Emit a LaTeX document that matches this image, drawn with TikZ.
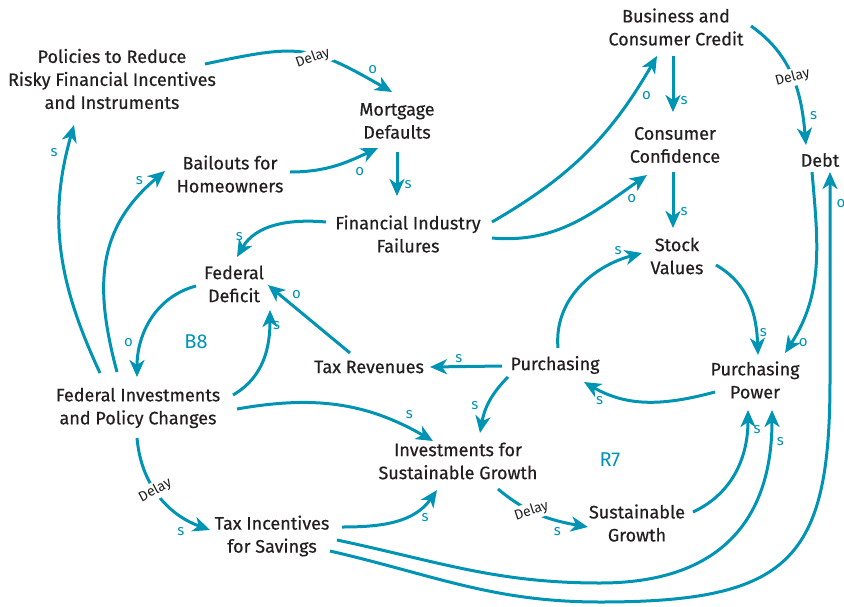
\documentclass[tikz,border=0pt]{standalone}
\usepackage{fontspec}
\setmainfont{Fira Sans}
\newfontfamily\varfont{Fira Sans}[FakeBold=0.5]
\usetikzlibrary{arrows.meta}
\definecolor{loopteal}{RGB}{0,148,180}
\definecolor{inkgray}{RGB}{35,31,32}

\begin{document}
\begin{tikzpicture}[x=1pt,y=1pt,
	var/.style={align=center,text=inkgray,font=\varfont\fontsize{18}{23}\selectfont,inner sep=2pt},
	link/.style={loopteal,line width=3pt,-{Stealth[length=17pt,width=15pt,inset=5pt]}},
	pol/.style={text=loopteal,font=\fontsize{15}{15}\selectfont,inner sep=2pt},
	delay/.style={fill=white,text=inkgray,font=\fontsize{14}{14}\selectfont,inner sep=2pt},
	looplabel/.style={text=loopteal,font=\fontsize{20}{20}\selectfont}]
	\useasboundingbox (0,0) rectangle (844,-606);
	
	% Variables
	\node[var] (pol) at (112,-79) {Policies to Reduce\\Risky Financial Incentives\\and Instruments};
	\node[var] (mort) at (397,-121) {Mortgage\\Defaults};
	\node[var] (bail) at (230,-174) {Bailouts for\\Homeowners};
	\node[var] (bcc) at (676,-27) {Business and\\Consumer Credit};
	\node[var] (conf) at (675,-145) {Consumer\\Confidence};
	\node[var] (debt) at (820,-160) {Debt};
	\node[var] (fif) at (408,-234) {Financial Industry\\Failures};
	\node[var] (stock) at (677,-256) {Stock\\Values};
	\node[var] (def) at (234,-284) {Federal\\Deficit};
	\node[var] (taxrev) at (369,-367) {Tax Revenues};
	\node[var] (purch) at (555,-365) {Purchasing};
	\node[var] (ppow) at (755,-380) {Purchasing\\Power};
	\node[var] (fedinv) at (138,-408) {Federal Investments\\and Policy Changes};
	\node[var] (isg) at (458,-461) {Investments for\\Sustainable Growth};
	\node[var] (taxinc) at (272,-536) {Tax Incentives\\for Savings};
	\node[var] (sg) at (637,-523) {Sustainable\\Growth};
	
	% Loop names
	\node[looplabel] (b8) at (196,-342) {B8};
	\node[looplabel] (r7) at (610,-460) {R7};
	
	% Links, top part
	\draw[link] ([shift={(93,15)}]pol.center) to[out=12,in=150,looseness=1.3] node[delay,rotate=20,pos=.56,below=-6pt]{Delay} node[pol,pos=.88,above right]{o} ([shift={(-5,29)}]mort.center);
	\draw[link] ([shift={(60,2)}]bail.center) to[out=0,in=205] node[pol,pos=.8,below=8pt]{o} ([shift={(-19,-27)}]mort.center);
	\draw[link] ([shift={(0,-31)}]mort.center) -- node[pol,pos=.75,right=4pt]{s} ([shift={(-11,38)}]fif.center);
	\draw[link] ([shift={(-82,12)}]fif.center) to[out=175,in=60] node[pol,pos=.85,above left]{s} ([shift={(3,27)}]def.center);
	\draw[link] ([shift={(84,12)}]fif.center) to[out=30,in=240] node[pol,pos=.82,right=6pt]{o} ([shift={(-19,-29)}]bcc.center);
	\draw[link] ([shift={(84,-4)}]fif.center) to[out=-5,in=215] node[pol,pos=.85,below right]{o} ([shift={(-28,-30)}]conf.center);
	\draw[link] ([shift={(-3,-29)}]bcc.center) -- node[pol,pos=.8,right=4pt]{s} ([shift={(-2,33)}]conf.center);
	\draw[link] ([shift={(75,1)}]bcc.center) to[out=-35,in=95] node[delay,rotate=15,pos=.5]{Delay} node[pol,pos=.8,right=4pt]{s} ([shift={(-14,15)}]debt.center);
	\draw[link] ([shift={(-2,-27)}]conf.center) -- node[pol,pos=.7,right=4pt]{s} ([shift={(-4,28)}]stock.center);
	\draw[link] ([shift={(-8,-12)}]debt.center) to[out=-85,in=57] node[pol,pos=.9,below right]{o} ([shift={(30,27)}]ppow.center);
	
	% Links, right loop
	\draw[link] ([shift={(39,-9)}]stock.center) to[out=-30,in=92] node[pol,pos=.8,right]{s} ([shift={(3,25)}]ppow.center);
	\draw[link] ([shift={(-40,-12)}]ppow.center) to[out=-165,in=-30] node[pol,pos=.88,below=3pt]{s} ([shift={(29,-17)}]purch.center);
	\draw[link] ([shift={(3,17)}]purch.center) to[out=95,in=195] node[pol,pos=.88,above left]{s} ([shift={(-35,3)}]stock.center);
	\draw[link] ([shift={(-53,-1)}]purch.center) -- node[pol,pos=.6,above]{s} ([shift={(61,0)}]taxrev.center);
	\draw[link] ([shift={(-47,-12)}]purch.center) to[out=-135,in=80] node[pol,pos=.55,left=6pt]{s} ([shift={(22,28)}]isg.center);
	
	% Links, left loop
	\draw[link] ([shift={(-19,14)}]taxrev.center) -- node[pol,pos=.75,above right]{o} ([shift={(34,-1)}]def.center);
	\draw[link] ([shift={(-38,-2)}]def.center) to[out=-165,in=90] node[pol,pos=.72,left=5pt]{o} ([shift={(-1,31)}]fedinv.center);
	\draw[link] ([shift={(95,13)}]fedinv.center) to[out=30,in=-90] node[pol,pos=.85,right]{s} ([shift={(36,-26)}]def.center);
	\draw[link] ([shift={(-38,35)}]fedinv.center) to[out=115,in=-106] node[pol,pos=.9,left=6pt]{s} ([shift={(-38,-46)}]pol.center);
	\draw[link] ([shift={(-21,36)}]fedinv.center) to[out=105,in=-140,looseness=1.1] node[pol,pos=.9,above left]{s} ([shift={(-65,3)}]bail.center);
	\draw[link] ([shift={(99,-1)}]fedinv.center) to[out=10,in=150] node[pol,pos=.88,above=6pt]{s} ([shift={(-25,20)}]isg.center);
	\draw[link] ([shift={(-1,-30)}]fedinv.center) to[out=-85,in=160] node[delay,rotate=28,pos=.45]{Delay} node[pol,pos=.75,below=8pt]{s} ([shift={(-62,6)}]taxinc.center);
	
	% Links, bottom part
	\draw[link] ([shift={(70,9)}]taxinc.center) to[out=0,in=235] node[pol,pos=.75,below right]{s} ([shift={(-21,-29)}]isg.center);
	\draw[link] ([shift={(40,-28)}]isg.center) to[out=-40,in=170] node[delay,rotate=18,pos=.4]{Delay} node[pol,pos=.7,below=3pt]{s} ([shift={(-49,-4)}]sg.center);
	\draw[link] ([shift={(56,11)}]sg.center) to[out=25,in=-90] node[pol,pos=.85,right=3pt]{s} ([shift={(-7,-30)}]ppow.center);
	\draw[link] ([shift={(65,-4)}]taxinc.center) to[out=-12,in=180] (600,-583) .. controls +(120,0) and +(0,-110) .. ([shift={(17,-30)}]ppow.center) node[pol,pos=.9,right=3pt]{s};
	\draw[link] ([shift={(58,-15)}]taxinc.center) to[out=-13,in=180] (600,-602) .. controls +(190,0) and +(0,-180) .. (830,-380) -- ([shift={(10,-12)}]debt.center) node[pol,pos=.85,right=3pt]{o};
\end{tikzpicture}
\end{document}
